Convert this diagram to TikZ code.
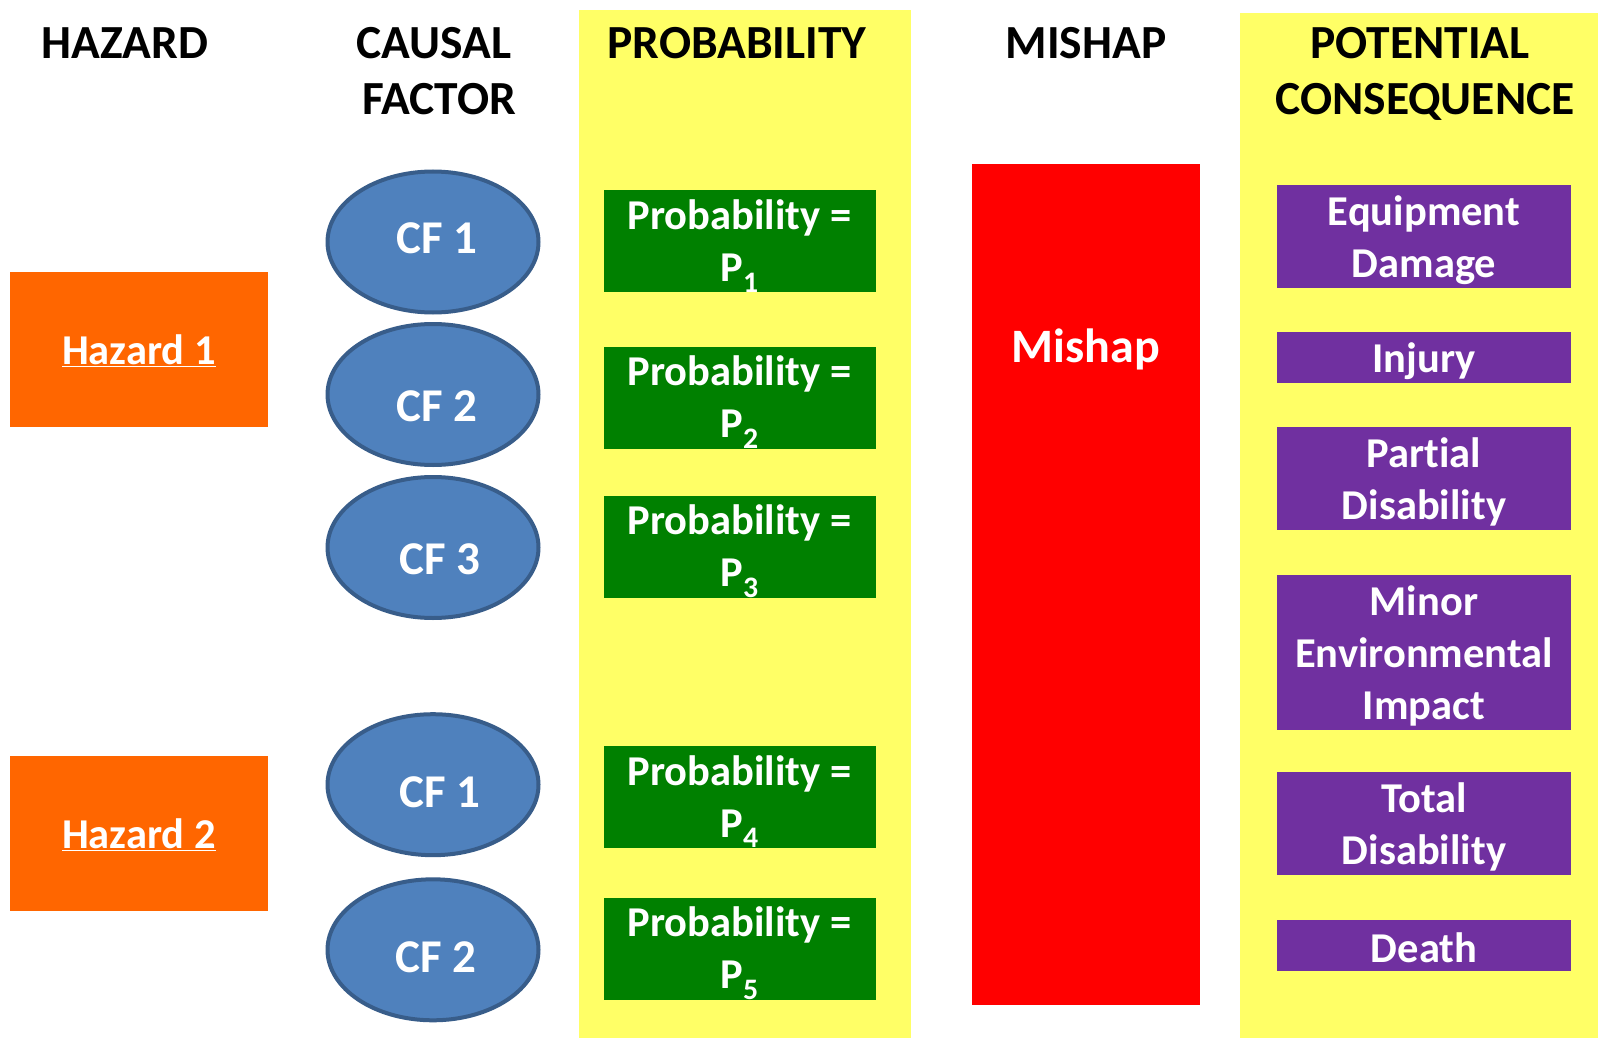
\documentclass[tikz,border=0pt]{standalone}
\usepackage{fontspec}
\setmainfont{Carlito}[Ligatures=NoCommon]
\usetikzlibrary{shapes.geometric}
\definecolor{bandyellow}{HTML}{FFFF66}
\definecolor{hazorange}{HTML}{FF6600}
\definecolor{cffill}{HTML}{4F81BD}
\definecolor{cfedge}{HTML}{385D8A}
\definecolor{probgreen}{HTML}{008000}
\definecolor{conspurple}{HTML}{7030A0}
\definecolor{mishapred}{HTML}{FF0000}
\tikzset{
  header/.style={font=\fontsize{47.5}{56}\selectfont\bfseries, text=black, anchor=base, inner sep=0},
  hazbox/.style={rectangle, fill=hazorange, minimum width=258, minimum height=155, inner sep=0},
  cfshape/.style={ellipse, fill=cffill, draw=cfedge, line width=4pt, minimum width=211, minimum height=141, inner sep=0},
  cftext/.style={font=\fontsize{47}{54}\selectfont\bfseries, text=white, inner sep=0},
  probbox/.style={rectangle, fill=probgreen, minimum width=272, minimum height=102, inner sep=0},
  consbox/.style={rectangle, fill=conspurple, minimum width=294, inner sep=0},
  boxtext/.style={inner sep=0, text=white, align=center, font=\fontsize{42.5}{52}\selectfont\bfseries},
  band/.style={fill=bandyellow},
}
\newcommand{\probtext}[1]{Probability =\\P\textsubscript{#1}}
\begin{document}
\begin{tikzpicture}[x=1pt,y=-1pt]
  \useasboundingbox (0,0) rectangle (1598,1038);
  \fill[white] (0,0) rectangle (1598,1038);

  % yellow column bands
  \fill[band] (579,10) rectangle (911,1038);
  \fill[band] (1240,13) rectangle (1598,1038);

  % column headers
  \node[header] (hHaz)  at (125,59)  {HAZARD};
  \node[header] (hCau1) at (434,59)  {CAUSAL};
  \node[header] (hCau2) at (439,115) {FACTOR};
  \node[header] (hProb) at (737,59)  {PROBABILITY};
  \node[header] (hMis)  at (1086,59) {MISHAP};
  \node[header] (hPot1) at (1420,59) {POTENTIAL};
  \node[header] (hPot2) at (1425,115) {CONSEQUENCE};

  % hazards
  \node[hazbox] (haz1) at (139,349.5) {};
  \node[boxtext] (haz1t) at (139,351) {\underline{Hazard 1}};
  \node[hazbox] (haz2) at (139,833.5) {};
  \node[boxtext] (haz2t) at (139,835) {\underline{Hazard 2}};

  % causal factors
  \node[cfshape] (cf1a) at (433,242)   {};
  \node[cfshape] (cf2a) at (433,394.5) {};
  \node[cfshape] (cf3a) at (433,547.5) {};
  \node[cfshape] (cf1b) at (433,784.7) {};
  \node[cfshape] (cf2b) at (433,949.8) {};
  \node[cftext] (cf1at) at (437,238.5) {CF 1};
  \node[cftext] (cf2at) at (437,406.6) {CF 2};
  \node[cftext] (cf3at) at (440,559.5) {CF 3};
  \node[cftext] (cf1bt) at (440,792)   {CF 1};
  \node[cftext] (cf2bt) at (436,957)   {CF 2};

  % probabilities
  \node[probbox] (p1) at (739.5,241)   {};
  \node[probbox] (p2) at (739.5,397.5) {};
  \node[probbox] (p3) at (739.5,546.5) {};
  \node[probbox] (p4) at (739.5,796.5) {};
  \node[probbox] (p5) at (739.5,948.5) {};
  \node[boxtext] (p1t) at (739.5,246)   {\probtext{1}};
  \node[boxtext] (p2t) at (739.5,402.5) {\probtext{2}};
  \node[boxtext] (p3t) at (739.5,551.5) {\probtext{3}};
  \node[boxtext] (p4t) at (739.5,801.5) {\probtext{4}};
  \node[boxtext] (p5t) at (739.5,953.5) {\probtext{5}};

  % mishap
  \node[rectangle, fill=mishapred, minimum width=228, minimum height=841, inner sep=0] (mishap) at (1086,584.5) {};
  \node[font=\fontsize{48}{56}\selectfont\bfseries, text=white, inner sep=0] (mishapt) at (1086,349) {Mishap};

  % potential consequences
  \node[consbox, minimum height=103] (c1) at (1424,236.5) {};
  \node[consbox, minimum height=51]  (c2) at (1424,357.5) {};
  \node[consbox, minimum height=103] (c3) at (1424,478.5) {};
  \node[consbox, minimum height=155] (c4) at (1424,652.5) {};
  \node[consbox, minimum height=103] (c5) at (1424,823.5) {};
  \node[consbox, minimum height=51]  (c6) at (1424,945.5) {};
  \node[boxtext] (c1t) at (1424,240) {Equipment\\Damage};
  \node[boxtext] (c2t) at (1424,361) {Injury};
  \node[boxtext] (c3t) at (1424,482) {Partial\\Disability};
  \node[boxtext] (c4t) at (1424,656) {Minor\\Environmental\\Impact};
  \node[boxtext] (c5t) at (1424,827) {Total\\Disability};
  \node[boxtext] (c6t) at (1424,948) {Death};
\end{tikzpicture}
\end{document}
